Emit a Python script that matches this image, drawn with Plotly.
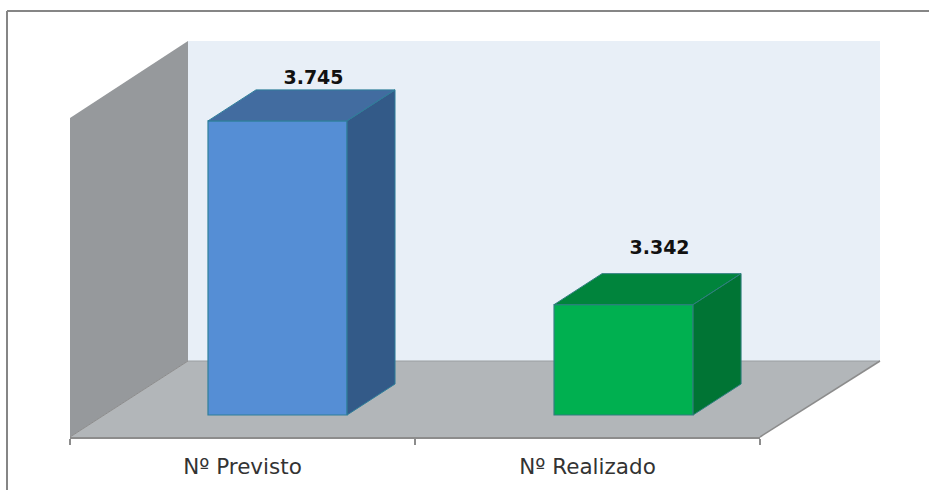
import plotly.graph_objects as go

categories = ["Nº Previsto", "Nº Realizado"]
values = [3.745, 3.342]
value_labels = ["3.745", "3.342"]
axis_base = 3.1
front_colors = ["#558ED5", "#00B050"]
top_colors = ["#426CA0", "#00843C"]
side_colors = ["#335A88", "#007434"]
edge_colors = ["#2F7F9A", "#2F7F7F"]

W, H = 929, 490
L, R, T, B = 70, 169, 41, 53
PW, PH = W - L - R, H - T - B
X_UNIT = PW / 2.0
Y_UNIT = 456.0
y_low = axis_base - 22 / Y_UNIT
y_high = y_low + PH / Y_UNIT
BAR_OFFSETS = [-0.1, -0.097]
BAR_WIDTH = 0.403
DX = 48 / X_UNIT
DY = 31 / Y_UNIT


def px(x):
    return (x - L) / PW


def py(y):
    return 1 - (y - T) / PH


def poly(points, fill, line=None, width=0):
    path = "M " + " L ".join(f"{px(a):.5f},{py(b):.5f}" for a, b in points) + " Z"
    return dict(type="path", xref="paper", yref="paper", path=path, fillcolor=fill,
                line=dict(color=line or fill, width=width), layer="below")


def seg(x0, y0, x1, y1, color, width):
    return dict(type="line", xref="paper", yref="paper", x0=px(x0), y0=py(y0), x1=px(x1), y1=py(y1),
                line=dict(color=color, width=width), layer="below")


shapes = [
    poly([(188, 41), (880, 41), (880, 361), (188, 361)], "#E8EFF7"),
    poly([(70, 118), (188, 41), (188, 361), (70, 437)], "#96999C"),
    poly([(70, 437), (188, 361), (880, 361), (760, 437)], "#B2B6B9"),
    seg(188, 361, 880, 361, "#9A9EA1", 1),
    seg(760, 437, 880, 361, "#8C8C8C", 1.5),
    seg(70, 437, 188, 361, "#8C8C8C", 1),
    seg(7, 11, 929, 11, "#868686", 2),
    seg(7, 11, 7, 490, "#868686", 2),
]

fig = go.Figure()

for i, v in enumerate(values):
    x0 = i + BAR_OFFSETS[i]
    x1 = x0 + BAR_WIDTH
    fig.add_trace(go.Bar(x=[i], y=[v - axis_base], base=[axis_base], offset=BAR_OFFSETS[i], width=BAR_WIDTH,
                         marker=dict(color=front_colors[i], line=dict(color=edge_colors[i], width=1.2)),
                         showlegend=False, hoverinfo="skip"))
    fig.add_trace(go.Scatter(x=[x0, x1, x1 + DX, x0 + DX, x0], y=[v, v, v + DY, v + DY, v],
                             mode="lines", fill="toself", fillcolor=top_colors[i],
                             line=dict(color=edge_colors[i], width=1), cliponaxis=False,
                             showlegend=False, hoverinfo="skip"))
    fig.add_trace(go.Scatter(x=[x1, x1 + DX, x1 + DX, x1, x1],
                             y=[v, v + DY, axis_base + DY, axis_base, v],
                             mode="lines", fill="toself", fillcolor=side_colors[i],
                             line=dict(color=edge_colors[i], width=1), cliponaxis=False,
                             showlegend=False, hoverinfo="skip"))

label_x = [i + BAR_OFFSETS[i] + BAR_WIDTH / 2 + DX / 2 + 12 / X_UNIT for i in range(len(values))]
label_gap = [11 / Y_UNIT, 24 / Y_UNIT]
fig.add_trace(go.Scatter(x=label_x, y=[v + DY + g for v, g in zip(values, label_gap)],
                         mode="text", text=value_labels, textposition="middle center",
                         textfont=dict(family="DejaVu Sans", size=19, color="#111111", weight="bold"),
                         cliponaxis=False, showlegend=False, hoverinfo="skip"))

fig.update_layout(
    width=W, height=H, margin=dict(l=L, r=R, t=T, b=B, pad=0, autoexpand=False),
    paper_bgcolor="white", plot_bgcolor="rgba(0,0,0,0)", shapes=shapes, showlegend=False,
    xaxis=dict(range=[-0.5, 1.5], tickmode="array", tickvals=[0, 1], ticktext=categories, automargin=False,
               ticks="", showgrid=False, zeroline=False, showline=True, linecolor="#8C8C8C", linewidth=1.5,
               tickfont=dict(family="DejaVu Sans", size=21.5, color="#333333"), ticklabelstandoff=9,
               minor=dict(tickmode="array", tickvals=[-0.5, 0.5, 1.5], ticks="outside", ticklen=6,
                          tickcolor="#8C8C8C", tickwidth=1.5, showgrid=False)),
    yaxis=dict(range=[y_low, y_high], visible=False, showgrid=False, zeroline=False),
)
fig.write_html("out.html", config=dict(displayModeBar=False),
               post_script="document.body.style.margin='0';document.documentElement.style.overflow='hidden';")
